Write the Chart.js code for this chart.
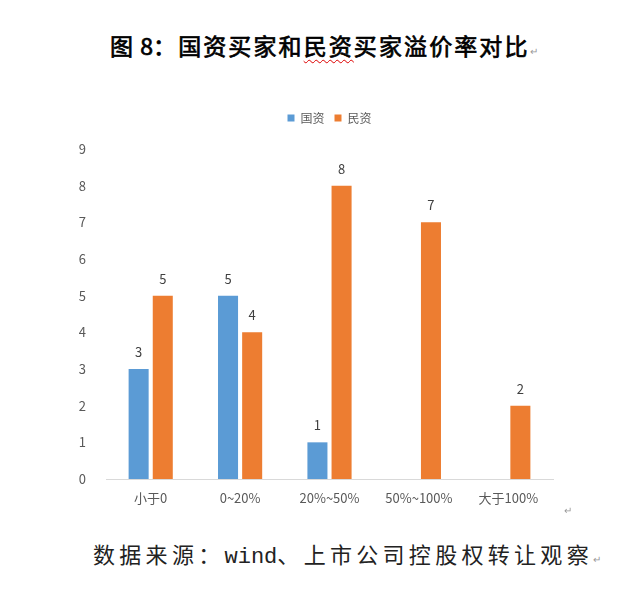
<!DOCTYPE html>
<html>
<head>
<meta charset="utf-8">
<script src="https://cdn.jsdelivr.net/npm/chart.js@4"></script>
<style>
  html, body { margin: 0; padding: 0; background: #fff; }
  body { width: 619px; height: 592px; position: relative; overflow: hidden; font-family: "Noto Sans CJK SC", sans-serif; }
  #title {
    position: absolute; left: 110px; top: 30px; font-size: 23px; font-weight: 400;
    -webkit-text-stroke: 0.7px #000;
    letter-spacing: 2.1px; color: #000; white-space: nowrap; line-height: 30px;
  }
  #title .num { letter-spacing: 0; }
  #title .wavy { text-decoration: underline wavy #d00; text-underline-offset: 4px; text-decoration-thickness: 1px; }
  #source {
    position: absolute; left: 93px; top: 539px; font-size: 22px; letter-spacing: 4.3px;
    color: #222; white-space: nowrap; line-height: 28px; font-weight: 400;
  }
  #source .latin { font-family: "Liberation Mono", monospace; letter-spacing: 0; font-size: 22px; }
  .ret { font-size: 10px; color: #999; letter-spacing: 0; font-weight: 400; -webkit-text-stroke: 0; }
  #axisRet { position: absolute; left: 564px; top: 502px; }
  #wrap { position: absolute; left: 0; top: 90px; width: 619px; height: 440px; }
</style>
</head>
<body>
<div id="title">图<span class="num"> 8</span>：国资买家和<span class="wavy">民资</span>买家溢价率对比<span class="ret">↵</span></div>
<div id="wrap"><canvas id="chart"></canvas></div>
<div id="axisRet" class="ret">↵</div>
<div id="source">数据来源：<span class="latin">wind</span>、上市公司控股权转让观察<span class="ret">↵</span></div>
<script>
const categories = ['小于0', '0~20%', '20%~50%', '50%~100%', '大于100%'];
const seriesNames = ['国资', '民资'];
const stateValues = [3, 5, 1, 0, 0];
const privateValues = [5, 4, 8, 7, 2];
const yTicks = [0, 1, 2, 3, 4, 5, 6, 7, 8, 9];

const BLUE = '#5B9BD5';
const ORANGE = '#ED7D31';

// draws the number above each bar, skips empty ones
const valueLabels = {
  id: 'valueLabels',
  afterDatasetsDraw(chart) {
    const ctx = chart.ctx;
    ctx.save();
    ctx.font = '13px "Noto Sans CJK SC", sans-serif';
    ctx.fillStyle = '#404040';
    ctx.textAlign = 'center';
    ctx.textBaseline = 'middle';
    chart.data.datasets.forEach((ds, i) => {
      chart.getDatasetMeta(i).data.forEach((bar, j) => {
        const v = ds.data[j];
        if (!v) return;
        ctx.fillText(String(v), bar.x, bar.y - 17);
      });
    });
    ctx.restore();
  }
};

// keep the legend block at a fixed height so the plot top lands where it should
const legendHeight = {
  id: 'legendHeight',
  beforeInit(chart) {
    const fit = chart.legend.fit;
    chart.legend.fit = function () {
      fit.call(this);
      this.height = 47;
    };
  }
};

new Chart(document.getElementById('chart'), {
  type: 'bar',
  data: {
    labels: categories,
    datasets: [
      { label: seriesNames[0], data: stateValues, backgroundColor: BLUE },
      { label: seriesNames[1], data: privateValues, backgroundColor: ORANGE }
    ]
  },
  options: {
    responsive: true,
    maintainAspectRatio: false,
    animation: false,
    categoryPercentage: 0.54,
    barPercentage: 0.83,
    layout: { padding: { top: 12, right: 66, bottom: 11, left: 0 } },
    plugins: {
      legend: {
        position: 'top',
        fullSize: false,
        labels: {
          boxWidth: 7,
          boxHeight: 7,
          padding: 10,
          color: '#595959',
          font: { size: 12, family: '"Noto Sans CJK SC", sans-serif' }
        }
      },
      tooltip: { enabled: false }
    },
    scales: {
      x: {
        grid: { display: false },
        border: { color: '#D9D9D9', width: 1 },
        ticks: {
          color: '#595959',
          padding: 3,
          font: { size: 13, family: '"Noto Sans CJK SC", sans-serif' }
        },
        afterFit: s => { s.height = 40; }
      },
      y: {
        min: 0,
        max: 9,
        grid: { display: false },
        border: { display: false },
        afterBuildTicks: s => { s.ticks = yTicks.map(v => ({ value: v })); },
        ticks: {
          stepSize: 1,
          color: '#595959',
          padding: 12,
          font: { size: 13, family: '"Noto Sans CJK SC", sans-serif' }
        },
        afterFit: s => { s.width = 106; }
      }
    }
  },
  plugins: [valueLabels, legendHeight]
});
</script>
</body>
</html>
